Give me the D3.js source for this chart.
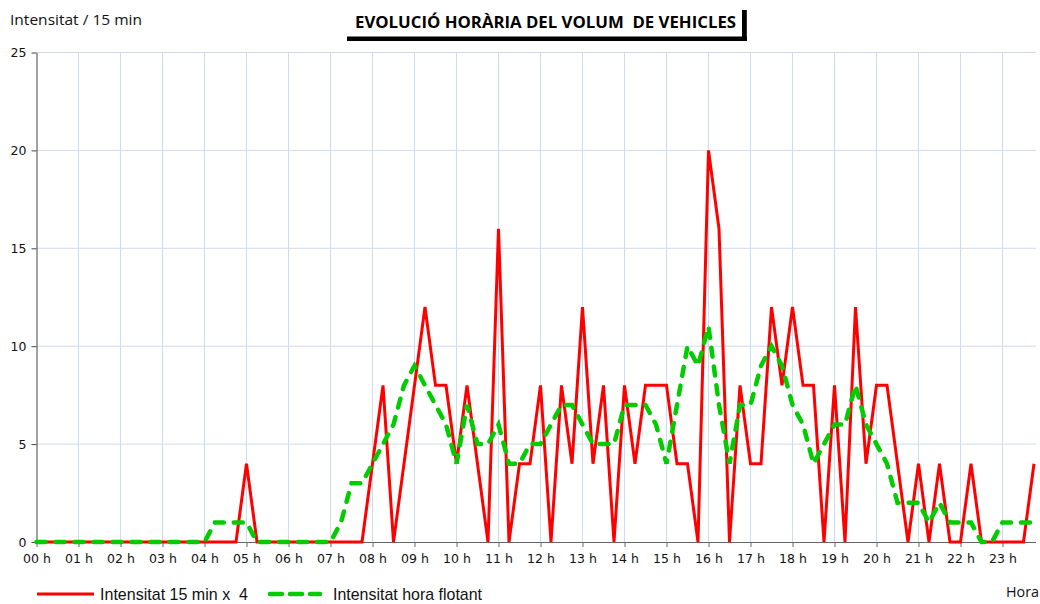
<!DOCTYPE html>
<html>
<head>
<meta charset="utf-8">
<script src="https://cdn.jsdelivr.net/npm/d3@7"></script>
<style>
  body { margin: 0; background: #fff; }
  svg { display: block; }
  .tick text { font-family: "DejaVu Sans", Verdana, sans-serif; font-size: 12.5px; fill: #111; }
</style>
</head>
<body>
<div id="chart"></div>
<script>

// quarter-hour slots 0..95 (00:00 .. 23:45)
const hourLabels = ["00 h","01 h","02 h","03 h","04 h","05 h","06 h","07 h","08 h","09 h","10 h","11 h",
                    "12 h","13 h","14 h","15 h","16 h","17 h","18 h","19 h","20 h","21 h","22 h","23 h"]

const yTicks = [0, 5, 10, 15, 20, 25]

// Intensitat 15 min x 4
const red15 = [0,0,0,0, 0,0,0,0, 0,0,0,0, 0,0,0,0, 0,0,0,0,
               4,0,0,0, 0,0,0,0, 0,0,0,0, 4,8,0,4, 8,12,8,8,
               4,8,4,0, 16,0,4,4, 8,0,8,4, 12,4,8,0, 8,4,8,8,
               8,4,4,0, 20,16,0,8, 4,4,12,8, 12,8,8,0, 8,0,12,4,
               8,8,4,0, 4,0,4,0, 0,4,0,0, 0,0,0,4]

// Intensitat hora flotant
const greenHour = [0,0,0,0, 0,0,0,0, 0,0,0,0, 0,0,0,0, 0,1,1,1,
                   1,0,0,0, 0,0,0,0, 0,1,3,3, 4,5,6,8, 9,8,7,6,
                   4,7,5,5, 6,4,4,5, 5,6,7,7, 6,5,5,5, 7,7,7,6,
                   4,7,10,9, 11,7,4,7, 7,9,10,9, 7,6,4,5, 6,6,8,6,
                   5,4,2,2, 2,1,2,1, 1,1,0,0, 1,1,1,1]

const legendLabels = ["Intensitat 15 min x  4", "Intensitat hora flotant"]

const width = 1040
const height = 604
const plot = { left: 36.5, right: 1034, top: 52.5, bottom: 542 }

const svg = d3.select('#chart').append('svg').attr('width', width).attr('height', height)

const x = d3.scaleLinear().domain([0, 95]).range([plot.left, plot.right])
const y = d3.scaleLinear().domain([0, 25]).range([plot.bottom, plot.top])

// grid
svg.append('g').selectAll('line.v')
  .data(d3.range(1, 24))
  .enter().append('line')
  .attr('x1', d => x(d * 4)).attr('x2', d => x(d * 4))
  .attr('y1', plot.top).attr('y2', plot.bottom)
  .attr('stroke', '#cfdcee').attr('stroke-width', 1)

svg.append('g').selectAll('line.h')
  .data(yTicks.filter(d => d > 0))
  .enter().append('line')
  .attr('x1', plot.left).attr('x2', 1036)
  .attr('y1', d => y(d)).attr('y2', d => y(d))
  .attr('stroke', '#cfdcee').attr('stroke-width', 1)

// axes
const axisBottom = d3.axisBottom(x)
  .tickValues(d3.range(0, 24).map(d => d * 4))
  .tickFormat((d, i) => hourLabels[i])
  .tickSize(5).tickSizeOuter(0)

const gx = svg.append('g').attr('transform', `translate(0,${plot.bottom})`).call(axisBottom)
gx.select('.domain').attr('d', `M${plot.left},0.5H1036`).attr('stroke', '#666')
gx.selectAll('.tick line').attr('stroke', '#666')
gx.selectAll('.tick text').attr('dy', '1.0em')

const axisLeft = d3.axisLeft(y).tickValues(yTicks).tickSize(5).tickSizeOuter(0)
const gy = svg.append('g').attr('transform', `translate(${plot.left},0)`).call(axisLeft)
gy.select('.domain').attr('stroke', '#444')
gy.selectAll('.tick line').attr('stroke', '#444')
gy.selectAll('.tick text').attr('x', -10)

// lines
const lineGen = d3.line().x((d, i) => x(i)).y(d => y(d))

svg.append('path')
  .datum(red15)
  .attr('d', lineGen)
  .attr('fill', 'none')
  .attr('stroke', '#ff0000')
  .attr('stroke-width', 3)
  .attr('stroke-linejoin', 'miter')

svg.append('path')
  .datum(greenHour)
  .attr('d', lineGen)
  .attr('fill', 'none')
  .attr('stroke', '#00cc00')
  .attr('stroke-width', 4.5)
  .attr('stroke-dasharray', '9,10')
  .attr('stroke-linecap', 'round')

// y label
svg.append('text')
  .attr('x', 10).attr('y', 25)
  .attr('font-family', '"Open Sans", "DejaVu Sans", sans-serif')
  .attr('font-size', 14.5)
  .attr('textLength', 132).attr('lengthAdjust', 'spacingAndGlyphs')
  .attr('fill', '#111')
  .text('Intensitat / 15 min')

// title box
svg.append('rect').attr('x', 347).attr('y', 36.5).attr('width', 400).attr('height', 4.5).attr('fill', '#000')
svg.append('rect').attr('x', 742).attr('y', 10).attr('width', 4.8).attr('height', 31).attr('fill', '#000')
svg.append('text')
  .attr('x', 355).attr('y', 28)
  .attr('font-family', '"Open Sans", Lato, sans-serif')
  .attr('font-weight', 'bold')
  .attr('font-size', 16)
  .attr('textLength', 381).attr('lengthAdjust', 'spacingAndGlyphs')
  .attr('fill', '#000')
  .text('EVOLUCIÓ HORÀRIA DEL VOLUM  DE VEHICLES')
  .style('white-space', 'pre')

// legend
const legendFont = '"Liberation Sans Narrow", "Arial Narrow", "Liberation Sans", sans-serif'
svg.append('line').attr('x1', 37).attr('x2', 94).attr('y1', 594).attr('y2', 594)
  .attr('stroke', '#ff0000').attr('stroke-width', 3)
svg.append('text').attr('x', 100).attr('y', 600)
  .attr('font-family', legendFont).attr('font-size', 17)
  .attr('textLength', 148).attr('lengthAdjust', 'spacingAndGlyphs')
  .attr('fill', '#111').style('white-space', 'pre')
  .text(legendLabels[0])

svg.append('line').attr('x1', 270).attr('x2', 320).attr('y1', 594).attr('y2', 594)
  .attr('stroke', '#00cc00').attr('stroke-width', 4.5)
  .attr('stroke-dasharray', '12,8').attr('stroke-linecap', 'round')
svg.append('text').attr('x', 333).attr('y', 600)
  .attr('font-family', legendFont).attr('font-size', 17)
  .attr('textLength', 149).attr('lengthAdjust', 'spacingAndGlyphs')
  .attr('fill', '#111')
  .text(legendLabels[1])

svg.append('text').attr('x', 1006).attr('y', 597)
  .attr('font-family', '"Open Sans", "DejaVu Sans", sans-serif').attr('font-size', 15)
  .attr('textLength', 33).attr('lengthAdjust', 'spacingAndGlyphs')
  .attr('fill', '#111')
  .text('Hora')

</script>
</body>
</html>
